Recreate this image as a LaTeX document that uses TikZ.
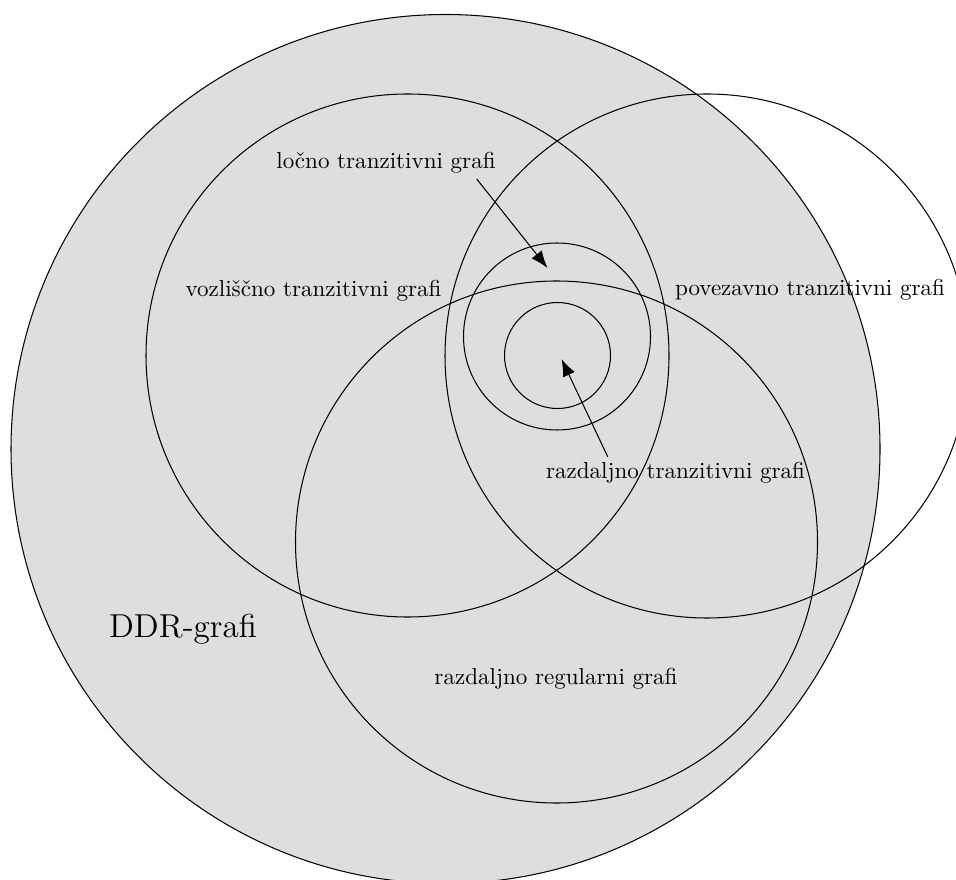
\documentclass[tikz,border=0pt]{standalone}
\usetikzlibrary{arrows.meta}
\definecolor{ddrgray}{RGB}{222,222,222}
\tikzset{
  setcircle/.style={draw=black, line width=0.45pt},
  lbl/.style={anchor=base, inner sep=0pt, font=\normalsize},
  pointer/.style={draw=black, line width=0.45pt, -{Latex[length=7.5pt,width=5.6pt]}}
}
\begin{document}
\begin{tikzpicture}[x=0.01524cm, y=-0.01524cm]
  \clip (0,0) rectangle (956,880);
  \useasboundingbox (0,0) rectangle (956,880);
  % DDR graphs (big gray circle)
  \filldraw[setcircle, fill=ddrgray] (445.5,449) circle (434.5);
  % vertex-transitive
  \draw[setcircle] (407.5,355.5) circle (261.5);
  % edge-transitive
  \draw[setcircle] (707,356) circle (262);
  % distance-regular
  \draw[setcircle] (556.5,542) circle (261);
  % arc-transitive
  \draw[setcircle] (557,336.5) circle (93.5);
  % distance-transitive
  \draw[setcircle] (557.5,355.5) circle (53);

  \node[lbl] (arc) at (386,169) {ločno tranzitivni grafi};
  \node[lbl] (vert) at (313.5,297) {vozliščno tranzitivni grafi};
  \node[lbl] (edge) at (810,296) {povezavno tranzitivni grafi};
  \node[lbl] (dist) at (675.5,478) {razdaljno tranzitivni grafi};
  \node[lbl, font=\Large] (ddr) at (183,637) {DDR-grafi};
  \node[lbl] (dreg) at (556,684) {razdaljno regularni grafi};

  \coordinate (arcS) at (476.7,179);
  \coordinate (arcE) at (547.5,268);
  \coordinate (distS) at (607.7,456.7);
  \coordinate (distE) at (561.5,359);
  \draw[pointer] (arcS) -- (arcE);
  \draw[pointer] (distS) -- (distE);
\end{tikzpicture}
\end{document}
